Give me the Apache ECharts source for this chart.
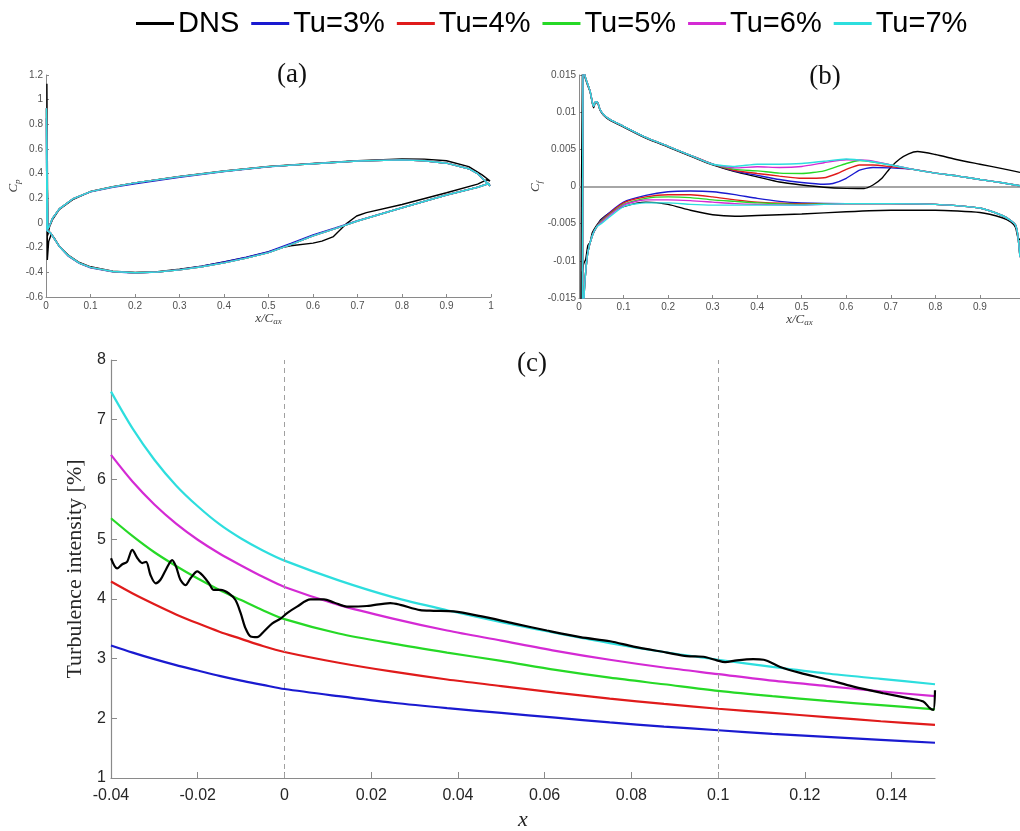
<!DOCTYPE html>
<html><head><meta charset="utf-8">
<script src="https://cdn.jsdelivr.net/npm/echarts@6/dist/echarts.min.js"></script>
<style>html,body{margin:0;padding:0;background:#fff}#c{width:1020px;height:831px}</style>
</head><body><div id="c"></div>
<script>
// ---------- legend / series names & colours ----------
const seriesNames = ['DNS', 'Tu=3%', 'Tu=4%', 'Tu=5%', 'Tu=6%', 'Tu=7%'];
const seriesColors = ['#000000', '#1a1ad0', '#e01b1b', '#26d926', '#d42ad4', '#2ddede'];

// ---------- panel (a): Cp vs x/Cax (closed loops: upper TE->LE, spike, lower LE->TE) ----------
const cpDNS = [[0.998,0.34],[0.98,0.39],[0.95,0.457],[0.9,0.505],[0.85,0.518],[0.8,0.52],[0.7,0.505],[0.6,0.483],[0.5,0.458],[0.4,0.422],[0.3,0.377],[0.2,0.325],[0.15,0.295],[0.1,0.255],[0.06,0.19],[0.03,0.11],[0.015,0.03],[0.008,-0.03],[0.004,-0.1],[0.002,1.13],[0.003,-0.3],[0.006,-0.15],[0.012,-0.09],[0.02,-0.13],[0.03,-0.19],[0.05,-0.26],[0.075,-0.32],[0.1,-0.355],[0.15,-0.39],[0.2,-0.40],[0.25,-0.395],[0.3,-0.375],[0.35,-0.35],[0.4,-0.315],[0.45,-0.28],[0.5,-0.235],[0.53,-0.2],[0.55,-0.185],[0.6,-0.163],[0.62,-0.147],[0.646,-0.11],[0.676,-0.003],[0.698,0.057],[0.72,0.084],[0.8,0.15],[0.9,0.245],[0.97,0.315],[0.99,0.35],[0.998,0.34]];
const cpTu3 = [[0.998,0.30],[0.99,0.33],[0.97,0.40],[0.95,0.44],[0.9,0.485],[0.85,0.505],[0.8,0.512],[0.7,0.503],[0.6,0.481],[0.5,0.455],[0.4,0.417],[0.3,0.37],[0.2,0.318],[0.15,0.29],[0.1,0.252],[0.06,0.195],[0.03,0.115],[0.015,0.04],[0.008,-0.02],[0.004,-0.05],[0.001,0.85],[0.002,-0.06],[0.01,-0.08],[0.02,-0.135],[0.03,-0.19],[0.05,-0.268],[0.075,-0.328],[0.1,-0.363],[0.15,-0.396],[0.2,-0.405],[0.25,-0.398],[0.3,-0.378],[0.35,-0.35],[0.4,-0.316],[0.45,-0.278],[0.5,-0.232],[0.55,-0.165],[0.6,-0.097],[0.65,-0.04],[0.7,0.018],[0.8,0.124],[0.9,0.227],[0.97,0.29],[0.995,0.32],[0.998,0.30]];
const cpTuOthers = [[0.998,0.30],[0.99,0.33],[0.97,0.40],[0.95,0.44],[0.9,0.485],[0.85,0.505],[0.8,0.512],[0.7,0.503],[0.6,0.481],[0.5,0.457],[0.4,0.42],[0.3,0.376],[0.2,0.325],[0.15,0.293],[0.1,0.254],[0.06,0.195],[0.03,0.115],[0.015,0.04],[0.008,-0.02],[0.004,-0.05],[0.001,0.93],[0.002,-0.06],[0.01,-0.08],[0.02,-0.135],[0.03,-0.19],[0.05,-0.265],[0.075,-0.325],[0.1,-0.36],[0.15,-0.393],[0.2,-0.403],[0.25,-0.397],[0.3,-0.38],[0.35,-0.355],[0.4,-0.323],[0.45,-0.285],[0.5,-0.24],[0.55,-0.175],[0.6,-0.105],[0.65,-0.045],[0.7,0.016],[0.8,0.124],[0.9,0.227],[0.97,0.29],[0.995,0.32],[0.998,0.30]];

// ---------- panel (b): Cf vs x/Cax ----------
const cfDNS = [[0.99,0.0019],[0.95,0.0024],[0.9,0.003],[0.85,0.0036],[0.8,0.0043],[0.76,0.0047],[0.74,0.0044],[0.72,0.0037],[0.7,0.0026],[0.68,0.0011],[0.66,0.0002],[0.64,-0.00027],[0.6,-0.00025],[0.55,-0.0001],[0.5,0.0002],[0.45,0.0006],[0.4,0.0013],[0.35,0.002],[0.3,0.0029],[0.25,0.0041],[0.2,0.0053],[0.15,0.0065],[0.1,0.008],[0.07,0.0089],[0.055,0.0096],[0.047,0.0103],[0.042,0.0112],[0.037,0.0113],[0.033,0.0106],[0.03,0.0112],[0.025,0.0127],[0.02,0.0135],[0.012,0.015],[0.008,0.018],[0.004,-0.02],[0.006,-0.013],[0.01,-0.0105],[0.015,-0.0098],[0.02,-0.0079],[0.025,-0.0075],[0.03,-0.0062],[0.04,-0.0052],[0.05,-0.0044],[0.07,-0.0035],[0.1,-0.0027],[0.15,-0.0021],[0.2,-0.0024],[0.25,-0.0032],[0.3,-0.0038],[0.35,-0.004],[0.4,-0.0039],[0.5,-0.0037],[0.6,-0.0034],[0.7,-0.0032],[0.8,-0.0032],[0.9,-0.0035],[0.95,-0.0042],[0.97,-0.0048],[0.98,-0.0055],[0.985,-0.0068],[0.99,-0.0072]];
const cfUpTail = [[0.99,0.0001],[0.95,0.0005],[0.9,0.00094],[0.85,0.0014],[0.8,0.0018],[0.75,0.0023]];
const cfUpLead = [[0.3,0.003],[0.25,0.0042],[0.2,0.0054],[0.15,0.0066],[0.1,0.0081],[0.07,0.009],[0.055,0.0097],[0.047,0.0104],[0.042,0.0113],[0.037,0.0114],[0.033,0.0108],[0.03,0.0113],[0.025,0.0128],[0.02,0.0137],[0.013,0.015],[0.009,0.018]];
const cfLoLead = [[0.008,-0.02],[0.012,-0.014],[0.015,-0.0115],[0.02,-0.0088],[0.03,-0.0066],[0.04,-0.0054]];
const cfLoTail = [[0.6,-0.0023],[0.7,-0.0023],[0.8,-0.0024],[0.9,-0.0029],[0.95,-0.0039],[0.97,-0.0046],[0.98,-0.0052],[0.985,-0.0065],[0.99,-0.0095]];
const cfUpTu3 = [[0.7,0.0025],[0.66,0.00256],[0.63,0.0022],[0.6,0.0011],[0.57,0.0004],[0.55,0.0003],[0.5,0.00054],[0.45,0.00094],[0.4,0.0015],[0.35,0.00207]];
const cfUpTu4 = [[0.7,0.00265],[0.66,0.0029],[0.63,0.0029],[0.6,0.0023],[0.58,0.00175],[0.55,0.00117],[0.5,0.0011],[0.45,0.0014],[0.4,0.00175],[0.35,0.00215]];
const cfUpTu5 = [[0.7,0.0029],[0.66,0.0033],[0.63,0.0035],[0.6,0.0031],[0.55,0.0021],[0.5,0.00175],[0.45,0.0018],[0.4,0.0021],[0.35,0.0023]];
const cfUpTu6 = [[0.7,0.0029],[0.65,0.0035],[0.6,0.0036],[0.55,0.0032],[0.5,0.0027],[0.45,0.00256],[0.4,0.00265],[0.35,0.0025]];
const cfUpTu7 = [[0.7,0.0029],[0.65,0.0034],[0.6,0.0037],[0.55,0.0034],[0.5,0.0031],[0.45,0.003],[0.4,0.003],[0.35,0.0027]];
const cfLoTu3 = [[0.05,-0.0045],[0.1,-0.0021],[0.15,-0.0012],[0.2,-0.0007],[0.25,-0.0006],[0.3,-0.0007],[0.35,-0.0011],[0.4,-0.0016],[0.45,-0.002],[0.5,-0.0022]];
const cfLoTu4 = [[0.05,-0.0046],[0.1,-0.0022],[0.15,-0.0014],[0.2,-0.0011],[0.25,-0.0011],[0.3,-0.0014],[0.35,-0.0018],[0.4,-0.0021],[0.5,-0.0023]];
const cfLoTu5 = [[0.05,-0.0047],[0.1,-0.0024],[0.15,-0.0016],[0.2,-0.0014],[0.25,-0.0015],[0.3,-0.0018],[0.35,-0.002],[0.4,-0.0022],[0.5,-0.0024]];
const cfLoTu6 = [[0.05,-0.0048],[0.1,-0.0025],[0.15,-0.0018],[0.2,-0.0018],[0.25,-0.0019],[0.3,-0.0021],[0.35,-0.0023],[0.4,-0.0024],[0.5,-0.0025]];
const cfLoTu7 = [[0.05,-0.005],[0.1,-0.0027],[0.15,-0.0022],[0.2,-0.0022],[0.25,-0.0024],[0.3,-0.0025],[0.4,-0.0025],[0.5,-0.0025]];

// ---------- panel (c): turbulence intensity vs x ----------
const tuX = [-0.04,-0.035,-0.03,-0.025,-0.02,-0.015,-0.01,-0.005,0,0.0125,0.025,0.0375,0.05,0.0625,0.075,0.0875,0.1,0.1125,0.125,0.1375,0.15];
const tu3 = [3.22,3.10,2.99,2.89,2.80,2.71,2.63,2.56,2.49,2.37,2.26,2.17,2.09,2.01,1.93,1.86,1.80,1.74,1.69,1.64,1.59];
const tu4 = [4.29,4.09,3.91,3.74,3.59,3.45,3.33,3.21,3.11,2.93,2.78,2.65,2.54,2.43,2.33,2.24,2.16,2.09,2.02,1.95,1.89];
const tu5 = [5.35,5.05,4.78,4.55,4.34,4.15,3.98,3.81,3.66,3.42,3.25,3.10,2.96,2.81,2.68,2.57,2.46,2.37,2.29,2.22,2.15];
const tu6 = [6.41,5.96,5.58,5.26,4.99,4.76,4.56,4.37,4.20,3.90,3.67,3.47,3.30,3.13,2.98,2.85,2.74,2.63,2.54,2.45,2.37];
const tu7 = [7.47,6.85,6.33,5.90,5.55,5.25,5.01,4.81,4.64,4.31,4.03,3.81,3.61,3.43,3.26,3.11,2.98,2.86,2.75,2.66,2.57];
const tuDNS = [[-0.04,4.68],[-0.0386,4.51],[-0.0374,4.58],[-0.0363,4.62],[-0.0351,4.82],[-0.0339,4.68],[-0.0328,4.60],[-0.0319,4.62],[-0.0309,4.40],[-0.0297,4.26],[-0.0286,4.32],[-0.0274,4.48],[-0.0259,4.65],[-0.025,4.54],[-0.024,4.32],[-0.0228,4.23],[-0.0217,4.34],[-0.0201,4.46],[-0.0186,4.37],[-0.0174,4.26],[-0.0163,4.15],[-0.0147,4.15],[-0.0128,4.09],[-0.0113,3.98],[-0.0101,3.76],[-0.009,3.51],[-0.0078,3.37],[-0.0063,3.36],[-0.0048,3.45],[-0.0028,3.59],[-0.0009,3.67],[0.0006,3.76],[0.0029,3.87],[0.006,3.99],[0.0091,3.99],[0.0114,3.94],[0.0144,3.87],[0.019,3.88],[0.0244,3.93],[0.0267,3.90],[0.0313,3.81],[0.0344,3.80],[0.039,3.79],[0.0452,3.71],[0.0528,3.59],[0.0605,3.47],[0.0682,3.36],[0.0751,3.29],[0.0805,3.20],[0.0882,3.10],[0.0928,3.04],[0.0966,3.03],[0.0997,2.97],[0.1016,2.94],[0.1043,2.97],[0.1081,2.99],[0.1105,2.98],[0.1143,2.86],[0.1189,2.76],[0.1251,2.65],[0.1312,2.53],[0.1381,2.42],[0.1443,2.33],[0.1473,2.28],[0.1488,2.17],[0.1496,2.14],[0.15,2.47]];

// ---------- build ----------
const SERIF = 'Liberation Serif, Times New Roman, serif';
const SANS = 'Liberation Sans, Arial, Helvetica, sans-serif';
const AX = '#8a8a8a';

function pairs(xs, ys) { return xs.map((x, i) => [x, ys[i]]); }

function smallAxis(gi, isX, min, max, interval, name, extra) {
  return Object.assign({
    gridIndex: gi, type: 'value', min: min, max: max, interval: interval,
    axisLine: { show: true, onZero: false, lineStyle: { color: AX, width: 1 } },
    axisTick: { show: true, inside: true, length: 3, lineStyle: { color: AX } },
    axisLabel: { fontSize: 10, color: '#505050', fontFamily: SANS, margin: isX ? 4 : 3 },
    splitLine: { show: false },
    name: name, nameLocation: 'middle',
    nameTextStyle: {
      color: '#404040',
      rich: {
        i: { fontFamily: SERIF, fontStyle: 'italic', fontSize: 13, color: '#404040' },
        s: { fontFamily: SERIF, fontStyle: 'italic', fontSize: 9, color: '#404040', verticalAlign: 'bottom', padding: [7, 0, 0, 0] }
      }
    }
  }, extra || {});
}

const lineBase = (name, color, xi, yi, data, width, smooth, z) => ({
  name: name, type: 'line', xAxisIndex: xi, yAxisIndex: yi, data: data,
  showSymbol: false, symbol: 'none', smooth: smooth, z: z || 2,
  lineStyle: { color: color, width: width }, itemStyle: { color: color },
  emphasis: { disabled: true }, silent: true, animation: false
});

const series = [];
// panel a
const cpData = [cpDNS, cpTu3, cpTuOthers, cpTuOthers, cpTuOthers, cpTuOthers];
seriesNames.forEach((n, i) => series.push(lineBase(n, seriesColors[i], 0, 0, cpData[i], 1.4, false)));
// panel b
const cfUps = [null, cfUpTu3, cfUpTu4, cfUpTu5, cfUpTu6, cfUpTu7];
const cfLos = [null, cfLoTu3, cfLoTu4, cfLoTu5, cfLoTu6, cfLoTu7];
seriesNames.forEach((n, i) => {
  const d = i === 0 ? cfDNS : [].concat(cfUpTail, cfUps[i], cfUpLead, cfLoLead, cfLos[i], cfLoTail);
  const s = lineBase(n, seriesColors[i], 1, 1, d, 1.4, 0.2);
  if (i === 0) {
    s.markLine = { silent: true, symbol: 'none', label: { show: false },
      lineStyle: { color: '#a6a6a6', type: 'solid', width: 2 }, data: [{ yAxis: 0 }], z: 1 };
  }
  series.push(s);
});
// panel c
const tuData = [tuDNS, pairs(tuX, tu3), pairs(tuX, tu4), pairs(tuX, tu5), pairs(tuX, tu6), pairs(tuX, tu7)];
seriesNames.forEach((n, i) => {
  const s = lineBase(n, seriesColors[i], 2, 2, tuData[i], 2.2, 0.3, i === 0 ? 5 : 2);
  if (i === 0) {
    s.markLine = { silent: true, symbol: 'none', label: { show: false },
      lineStyle: { color: '#a0a0a0', type: [5, 4], width: 1 }, data: [{ xAxis: 0 }, { xAxis: 0.1 }] };
  }
  series.push(s);
});

const option = {
  animation: false,
  backgroundColor: '#ffffff',
  title: [
    { text: '(a)', left: 287, top: 56, textAlign: 'center', textStyle: { fontFamily: SERIF, fontSize: 27, fontWeight: 'normal', color: '#111' } },
    { text: '(b)', left: 820, top: 58, textAlign: 'center', textStyle: { fontFamily: SERIF, fontSize: 27, fontWeight: 'normal', color: '#111' } },
    { text: '(c)', left: 527, top: 345, textAlign: 'center', textStyle: { fontFamily: SERIF, fontSize: 27, fontWeight: 'normal', color: '#111' } }
  ],
  legend: {
    data: seriesNames, left: 131, top: 4, itemGap: 12, itemWidth: 38, itemHeight: 3, icon: 'rect',
    selectedMode: false,
    textStyle: { fontFamily: SANS, fontSize: 29, color: '#000', padding: [0, 0, 0, -1] }
  },
  grid: [
    { left: 46, top: 75, width: 445, height: 222, outerBoundsMode: 'none', containLabel: false },
    { left: 579, top: 75, width: 441, height: 223, outerBoundsMode: 'none', containLabel: false },
    { left: 111, top: 360, width: 824, height: 418, outerBoundsMode: 'none', containLabel: false }
  ],
  xAxis: [
    smallAxis(0, true, 0, 1, 0.1, '{i|x/C}{s|ax}', { nameGap: 12 }),
    smallAxis(1, true, 0, 0.99, 0.1, '{i|x/C}{s|ax}', { nameGap: 12, axisLabel: { fontSize: 10, color: '#505050', fontFamily: SANS, margin: 4, showMaxLabel: false } }),
    {
      gridIndex: 2, type: 'value', min: -0.04, max: 0.15, interval: 0.02,
      axisLine: { show: true, onZero: false, lineStyle: { color: AX, width: 1.2 } },
      axisTick: { show: true, inside: true, length: 6, lineStyle: { color: AX } },
      axisLabel: { fontSize: 16, color: '#262626', fontFamily: SANS, margin: 10, showMaxLabel: false },
      splitLine: { show: false },
      name: 'x', nameLocation: 'middle', nameGap: 30,
      nameTextStyle: { fontFamily: SERIF, fontStyle: 'italic', fontSize: 22, color: '#262626' }
    }
  ],
  yAxis: [
    smallAxis(0, false, -0.6, 1.2, 0.2, '{i|C}{s|p}', { nameGap: 22, nameRotate: 90 }),
    smallAxis(1, false, -0.015, 0.015, 0.005, '{i|C}{s|f}', { nameGap: 31, nameRotate: 90 }),
    {
      gridIndex: 2, type: 'value', min: 1, max: 8, interval: 1,
      axisLine: { show: true, onZero: false, lineStyle: { color: AX, width: 1.2 } },
      axisTick: { show: true, inside: true, length: 6, lineStyle: { color: AX } },
      axisLabel: { fontSize: 16, color: '#262626', fontFamily: SANS, margin: 5 },
      splitLine: { show: false },
      name: 'Turbulence intensity [%]', nameLocation: 'middle', nameGap: 17, nameRotate: 90,
      nameTextStyle: { fontFamily: SERIF, fontSize: 22, color: '#262626' }
    }
  ],
  series: series
};

const chart = echarts.init(document.getElementById('c'), null, { renderer: 'canvas' });
chart.setOption(option);
</script></body></html>
